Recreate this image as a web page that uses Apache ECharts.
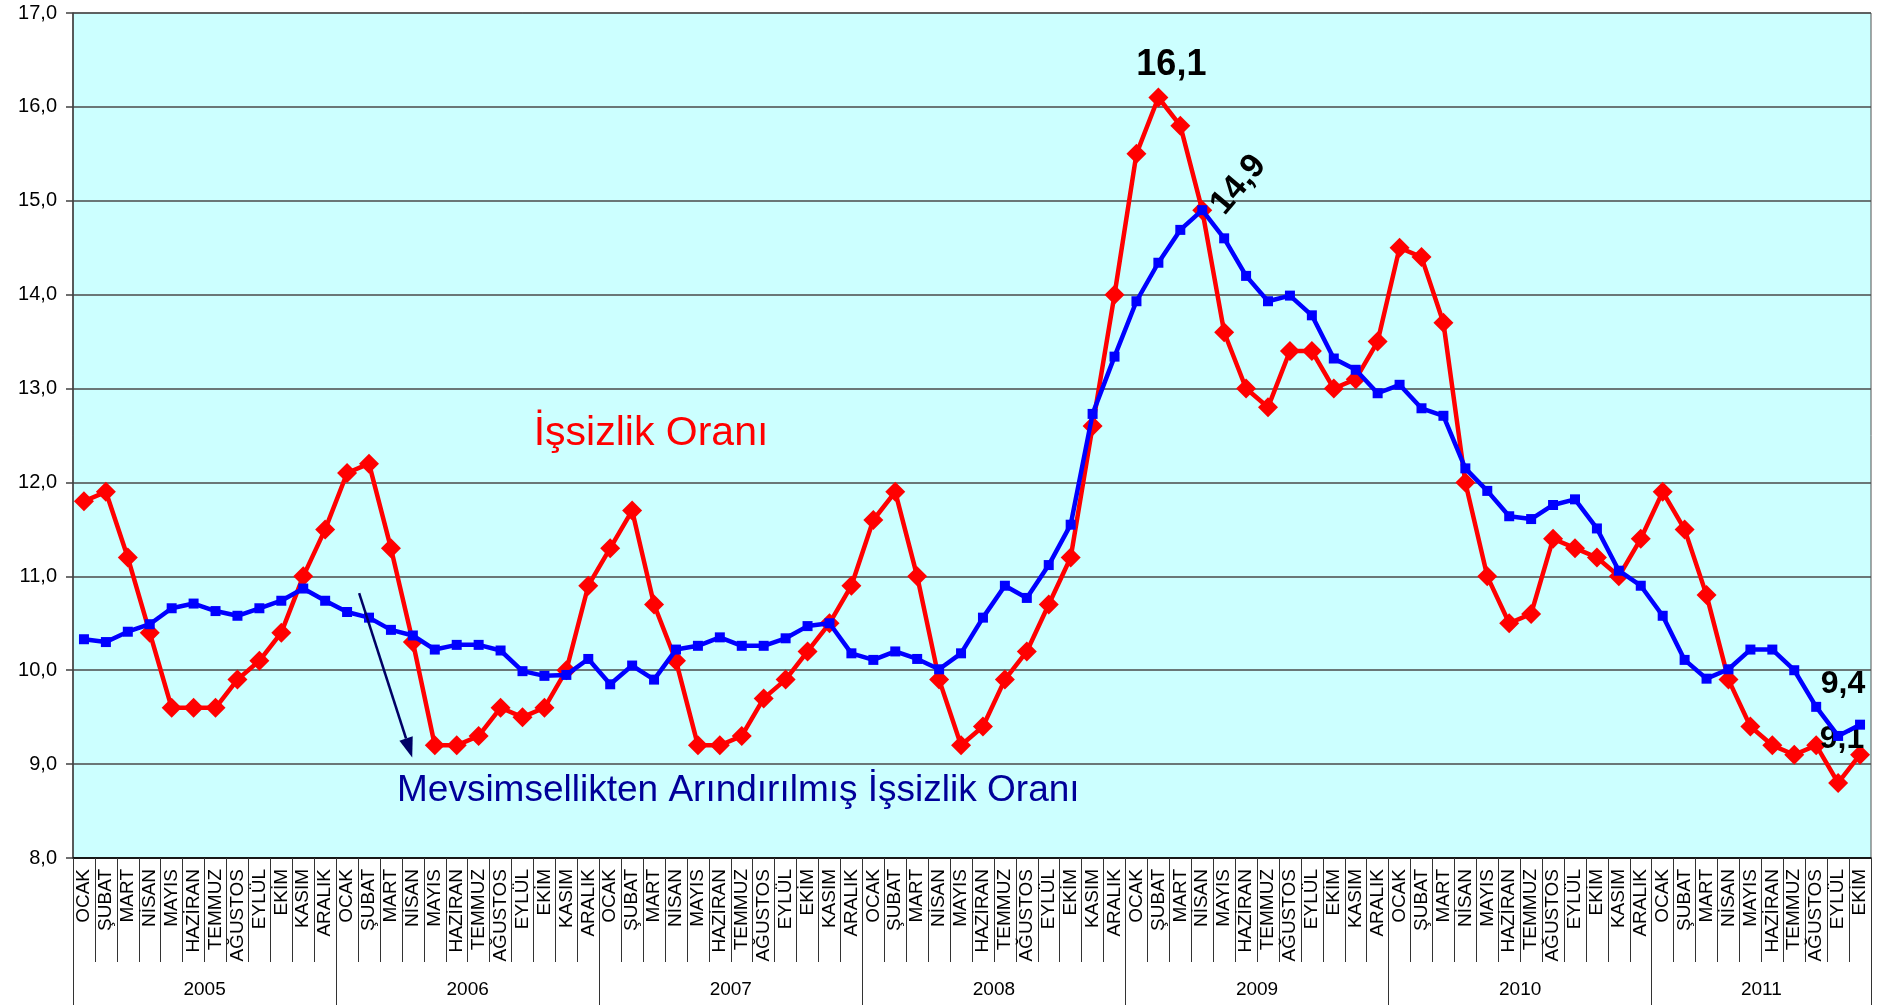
<!DOCTYPE html>
<html>
<head>
<meta charset="utf-8">
<script src="https://cdn.jsdelivr.net/npm/echarts@6/dist/echarts.min.js"></script>
<style>
html,body{margin:0;padding:0;background:#ffffff;}
#chart{width:1878px;height:1007px;}
</style>
</head>
<body>
<div id="chart"></div>
<script>
// ---- data ----
const monthNames = ['OCAK','ŞUBAT','MART','NİSAN','MAYIS','HAZİRAN','TEMMUZ','AĞUSTOS','EYLÜL','EKİM','KASIM','ARALIK'];
const years = ['2005','2006','2007','2008','2009','2010','2011'];
const monthsPerYear = [12,12,12,12,12,12,10];

// İşsizlik Oranı (red)
const issizlikOrani = [
  11.8, 11.9, 11.2, 10.4, 9.6, 9.6, 9.6, 9.9, 10.1, 10.4, 11.0, 11.5,
  12.1, 12.2, 11.3, 10.3, 9.2, 9.2, 9.3, 9.6, 9.5, 9.6, 10.0, 10.9,
  11.3, 11.7, 10.7, 10.1, 9.2, 9.2, 9.3, 9.7, 9.9, 10.2, 10.5, 10.9,
  11.6, 11.9, 11.0, 9.9, 9.2, 9.4, 9.9, 10.2, 10.7, 11.2, 12.6, 14.0,
  15.5, 16.1, 15.8, 14.9, 13.6, 13.0, 12.8, 13.4, 13.4, 13.0, 13.1, 13.5,
  14.5, 14.4, 13.7, 12.0, 11.0, 10.5, 10.6, 11.4, 11.3, 11.2, 11.0, 11.4,
  11.9, 11.5, 10.8, 9.9, 9.4, 9.2, 9.1, 9.2, 8.8, 9.1
];
// Mevsimsellikten Arındırılmış İşsizlik Oranı (blue)
const mevsimselOrani = [
  10.33, 10.30, 10.41, 10.49, 10.66, 10.71, 10.63, 10.58, 10.66, 10.74, 10.87, 10.74,
  10.62, 10.56, 10.43, 10.37, 10.22, 10.27, 10.27, 10.21, 9.99, 9.94, 9.95, 10.12,
  9.85, 10.05, 9.90, 10.22, 10.26, 10.35, 10.26, 10.26, 10.34, 10.47, 10.50, 10.18,
  10.11, 10.20, 10.12, 10.01, 10.18, 10.56, 10.90, 10.77, 11.12, 11.55, 12.73, 13.34,
  13.93, 14.34, 14.69, 14.90, 14.60, 14.20, 13.93, 13.99, 13.78, 13.32, 13.20, 12.95,
  13.04, 12.79, 12.71, 12.15, 11.91, 11.64, 11.61, 11.76, 11.82, 11.51, 11.06, 10.90,
  10.58, 10.11, 9.91, 10.01, 10.22, 10.22, 10.00, 9.61, 9.30, 9.42
];
// points that carry a value label
const redLabelIdx = [49, 81];
const blueLabelIdx = [51, 81];

// ---- build categories ----
const monthCats = [];
const yearCats = [];
const yearStart = [];
const yearCenter = [];
let k = 0;
years.forEach((y, yi) => {
  yearStart.push(k);
  yearCenter.push(k + monthsPerYear[yi] / 2);
  for (let m = 0; m < monthsPerYear[yi]; m++) {
    monthCats.push(monthNames[m]);
    yearCats.push(y);
    k++;
  }
});
const fmt = v => v.toFixed(1).replace('.', ',');

const FONT = '"Liberation Sans", Arial, sans-serif';
const bandW = (1871 - 73) / monthCats.length;

const labelStyles = {
  red49: { show: true, position: 'top', distance: 4, offset: [13, 0], fontSize: 36, fontWeight: 'bold', color: '#000', fontFamily: FONT, formatter: p => fmt(p.value) },
  red81: { show: true, position: 'top', distance: 0, offset: [-18, 10], fontSize: 32, fontWeight: 'bold', color: '#000', fontFamily: FONT, formatter: p => fmt(p.value) },
  blue51: { show: true, position: 'right', distance: 10, rotate: 50, align: 'left', verticalAlign: 'middle', fontSize: 34, fontWeight: 'bold', color: '#000', fontFamily: FONT, formatter: p => fmt(p.value) },
  blue81: { show: true, position: 'top', distance: 20, offset: [-17, 0], fontSize: 32, fontWeight: 'bold', color: '#000', fontFamily: FONT, formatter: p => fmt(p.value) }
};

const redData = issizlikOrani.map((v, i) => redLabelIdx.includes(i) ? { value: v, label: labelStyles['red' + i] } : v);
const blueData = mevsimselOrani.map((v, i) => blueLabelIdx.includes(i) ? { value: v, label: labelStyles['blue' + i] } : v);

const yearLabelIdx = yearCenter.map(c => Math.ceil(c));

const chart = echarts.init(document.getElementById('chart'));
const option = {
  animation: false,
  backgroundColor: '#ffffff',
  textStyle: { fontFamily: FONT },
  grid: {
    left: 73, right: 7, top: 13, bottom: 149,
    show: true, backgroundColor: '#CCFFFF', borderColor: '#505050', borderWidth: 1
  },
  xAxis: [
    {
      type: 'category', data: monthCats, position: 'bottom', boundaryGap: true,
      axisLine: { show: true, onZero: false, lineStyle: { color: '#000', width: 1.5 } },
      axisTick: { show: true, interval: 0, length: 104, lineStyle: { color: '#333', width: 1 } },
      axisLabel: { interval: 0, rotate: 90, margin: 11, fontSize: 19, color: '#000', fontFamily: FONT },
      splitLine: { show: false }
    },
    {
      type: 'category', data: yearCats, position: 'bottom', boundaryGap: true,
      axisLine: { show: false, onZero: false },
      axisTick: { show: true, length: 147, interval: (i) => yearStart.includes(i), lineStyle: { color: '#333', width: 1 } },
      axisLabel: {
        interval: 0, margin: 122, fontSize: 19, color: '#000', fontFamily: FONT,
        padding: [0, bandW, 0, 0],
        formatter: (v, i) => yearLabelIdx.includes(i) ? v : ''
      },
      splitLine: { show: false }
    }
  ],
  yAxis: {
    type: 'value', min: 8, max: 17, interval: 1,
    axisLine: { show: true, lineStyle: { color: '#404040', width: 1.5 } },
    axisTick: { show: true, length: 7, lineStyle: { color: '#404040', width: 1.5 } },
    axisLabel: { formatter: v => fmt(v), fontSize: 20, color: '#000', margin: 16, fontFamily: FONT },
    splitLine: { show: true, lineStyle: { color: '#4a4a4a', width: 1.5 } }
  },
  series: [
    {
      name: 'İşsizlik Oranı', type: 'line', data: redData,
      symbol: 'diamond', symbolSize: 20, showAllSymbol: true,
      lineStyle: { color: '#FF0000', width: 4.5 },
      itemStyle: { color: '#FF0000' },
      z: 2
    },
    {
      name: 'Mevsimsellikten Arındırılmış İşsizlik Oranı', type: 'line', data: blueData,
      xAxisIndex: 0,
      symbol: 'rect', symbolSize: 10, showAllSymbol: true,
      lineStyle: { color: '#0000FF', width: 4.5 },
      itemStyle: { color: '#0000FF' },
      z: 3
    }
  ]
};
chart.setOption(option);

// ---- annotations: text labels and arrow ----
function px(idx, val) {
  const i0 = Math.floor(idx), t = idx - i0;
  const a = chart.convertToPixel({ gridIndex: 0 }, [i0, val]);
  const b = chart.convertToPixel({ gridIndex: 0 }, [i0 + 1, val]);
  return [a[0] + (b[0] - a[0]) * t, a[1]];
}
const arrowFrom = px(12.55, 10.82);
const arrowTo = px(14.97, 9.07);
const dx = arrowTo[0] - arrowFrom[0], dy = arrowTo[1] - arrowFrom[1];
const len = Math.sqrt(dx * dx + dy * dy);
const ux = dx / len, uy = dy / len;
const headL = 20, headW = 7;
const baseX = arrowTo[0] - ux * headL, baseY = arrowTo[1] - uy * headL;
const head = [
  [arrowTo[0], arrowTo[1]],
  [baseX - uy * headW, baseY + ux * headW],
  [baseX + uy * headW, baseY - ux * headW]
];

chart.setOption({
  graphic: [
    {
      type: 'text', x: 651, y: 434, z: 10,
      style: { text: 'İşsizlik Oranı', fill: '#FF0000', font: '41px ' + FONT, textAlign: 'center', textVerticalAlign: 'middle' }
    },
    {
      type: 'text', x: 397, y: 791, z: 10,
      style: { text: 'Mevsimsellikten Arındırılmış İşsizlik Oranı', fill: '#000099', font: '37px ' + FONT, textAlign: 'left', textVerticalAlign: 'middle' }
    },
    {
      type: 'line', z: 10,
      shape: { x1: arrowFrom[0], y1: arrowFrom[1], x2: baseX, y2: baseY },
      style: { stroke: '#000066', lineWidth: 2.5 }
    },
    {
      type: 'polygon', z: 10,
      shape: { points: head },
      style: { fill: '#000066' }
    }
  ]
});
</script>
</body>
</html>
